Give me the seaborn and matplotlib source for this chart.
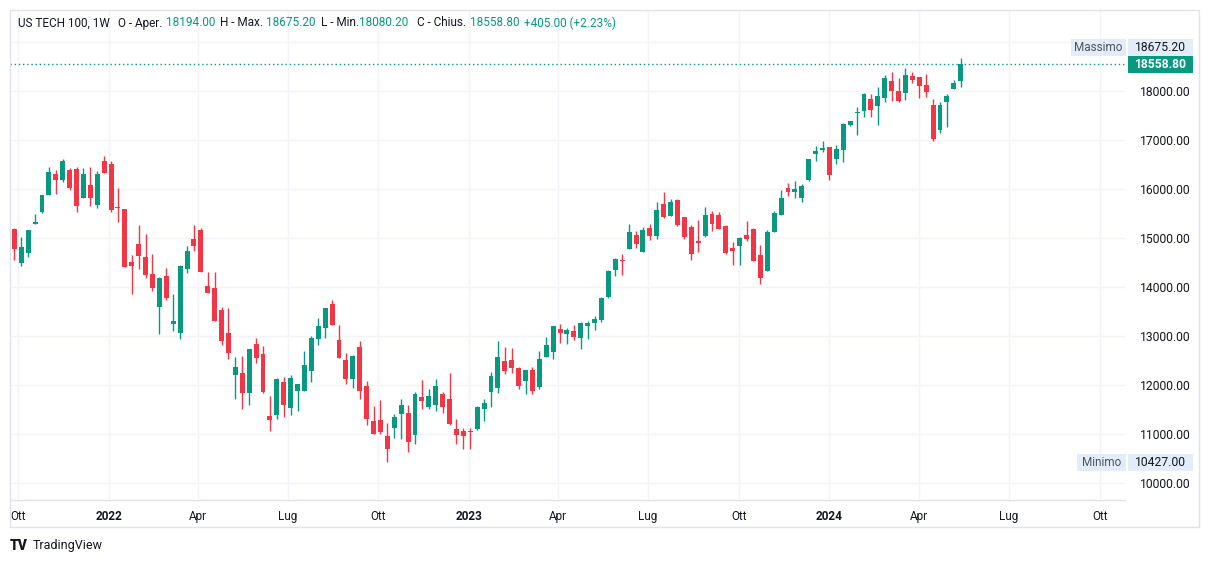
import numpy as np
import pandas as pd
import matplotlib
matplotlib.use("Agg")
import matplotlib.pyplot as plt
import matplotlib.dates as mdates
from matplotlib.patches import Rectangle
import seaborn as sns

# ---------------- data (weekly candles, US TECH 100) ----------------
start_week = "2021-09-27"
opens = [15184, 14497, 14701, 15292, 15537, 15884, 16306, 16190, 16388, 16408,
         15823, 16082, 15680, 16571, 16510, 15633, 15592, 14510, 14877, 14612,
         14265, 13598, 14224, 13251, 13068, 14374, 14979, 15163, 14020, 13979,
         13530, 13061, 12210, 12238, 11844, 12837, 12633, 11367, 11395, 12061,
         11537, 11884, 11884, 12293, 12946, 13170, 13653, 12918, 12510, 12129,
         12775, 11979, 11265, 11285, 10959, 11129, 11414, 11428, 10986, 11755,
         11557, 11598, 11816, 11714, 11101, 11061, 11061, 11102, 11510, 11857,
         11938, 12489, 12510, 12347, 12088, 12306, 11966, 12578, 12680, 13143,
         13047, 13102, 12966, 13211, 13265, 13330, 13800, 14354, 14551, 14783,
         15062, 14721, 15204, 15048, 15694, 15456, 15776, 15429, 15225, 14939,
         15047, 15490, 15469, 15245, 14796, 14843, 15061, 15184, 14653, 14333,
         15122, 15476, 16020, 15945, 15823, 16190, 16721, 16803, 16857, 16619,
         16803, 17313, 17558, 17599, 17837, 17701, 17864, 18204, 18000, 17966,
         18306, 18286, 18123, 17715, 17211, 17783, 18048, 18194.0]
highs = [15204, 15020, 15163, 15490, 15878, 16449, 16381, 16612, 16435, 16449,
         16429, 16449, 16367, 16673, 16571, 16014, 15600, 14653, 15265, 15081,
         14673, 14197, 14387, 13857, 14455, 14836, 15265, 15204, 14306, 14306,
         13591, 13571, 12571, 12591, 12735, 12959, 12796, 11782, 12143, 12163,
         12204, 12020, 12694, 13000, 13367, 13572, 13735, 13225, 12653, 12612,
         12897, 12081, 11571, 11693, 11224, 11408, 11714, 11591, 11857, 12102,
         11918, 12122, 11857, 12244, 11306, 11122, 11122, 11571, 11714, 12265,
         12898, 12775, 12755, 12367, 12306, 12367, 12694, 12979, 13204, 13245,
         13163, 13224, 13285, 13306, 13400, 13800, 14340, 14592, 14674, 15286,
         15143, 15225, 15286, 15735, 15939, 15796, 15796, 15429, 15266, 15368,
         15633, 15551, 15530, 15265, 14918, 15020, 15347, 15204, 14857, 15163,
         15551, 15979, 16122, 16163, 16102, 16612, 16877, 16980, 16857, 16898,
         17347, 17388, 17674, 17959, 17939, 18082, 18327, 18388, 18266, 18470,
         18388, 18286, 18347, 17837, 17776, 17939, 18225, 18675.2]
lows = [14558, 14435, 14612, 15292, 15517, 15871, 15905, 16143, 15986, 15537,
        15823, 15660, 15619, 16333, 15537, 15333, 14414, 13863, 14374, 14190,
        13925, 13047, 13741, 13108, 12945, 14292, 14741, 14312, 13884, 13312,
        12823, 12537, 11720, 11516, 11599, 12456, 11844, 11068, 11313, 11354,
        11395, 11476, 11884, 12068, 12823, 12966, 13231, 12558, 12027, 11946,
        11720, 11190, 11006, 11006, 10427, 10925, 10904, 10639, 10802, 11516,
        11516, 11476, 11435, 11190, 10802, 10700, 10700, 11081, 11265, 11551,
        11836, 12224, 12251, 11918, 11816, 11823, 11925, 12578, 12537, 12864,
        12843, 12925, 12741, 12945, 13120, 13280, 13770, 14232, 14252, 14783,
        14803, 14721, 14959, 14987, 15415, 15456, 15252, 14987, 14558, 14721,
        15027, 15150, 15190, 14680, 14456, 14456, 14945, 14537, 14068, 14333,
        15122, 15476, 15864, 15823, 15741, 16163, 16578, 16762, 16191, 16517,
        16558, 17292, 17109, 17476, 17476, 17313, 17783, 17803, 17783, 17823,
        18170, 17864, 17885, 16987, 17150, 17272, 18048, 18080.2]
closes = [14782, 14816, 15163, 15326, 15878, 16347, 16190, 16571, 16027, 15660,
          16306, 15823, 16306, 16333, 15578, 15612, 14414, 14435, 14639, 14251,
          13986, 14183, 13782, 13306, 14435, 14734, 14843, 14312, 13884, 13312,
          12904, 12659, 12367, 11843, 12735, 12558, 11864, 11293, 12122, 11599,
          12143, 12020, 12408, 12959, 13204, 13572, 13231, 12558, 12129, 12592,
          11884, 11312, 11006, 11047, 10700, 11346, 11591, 10843, 11816, 11680,
          11775, 11979, 11557, 11210, 10986, 10965, 11047, 11551, 11632, 12183,
          12571, 12292, 12353, 11986, 12306, 11884, 12530, 12816, 13204, 13068,
          13122, 12986, 13265, 13265, 13340, 13780, 14327, 14572, 14538, 15123,
          14885, 15164, 15048, 15572, 15436, 15735, 15272, 15027, 14681, 14905,
          15469, 15292, 15190, 14694, 14741, 15000, 14986, 14537, 14190, 15122,
          15510, 15816, 15945, 16000, 16061, 16612, 16775, 16837, 16293, 16817,
          17327, 17388, 17572, 17939, 17619, 17898, 18266, 18007, 17796, 18327,
          18232, 18109, 17987, 17027, 17715, 17898, 18153.8, 18558.8]

month_ticks = ["2021-10-01", "2022-01-01", "2022-04-01", "2022-07-01", "2022-10-01",
               "2023-01-01", "2023-04-01", "2023-07-01", "2023-10-01", "2024-01-01",
               "2024-04-01", "2024-07-01", "2024-10-01"]
month_labels = ["Ott", "2022", "Apr", "Lug", "Ott", "2023", "Apr", "Lug", "Ott",
                "2024", "Apr", "Lug", "Ott"]
price_ticks = [10000, 11000, 12000, 13000, 14000, 15000, 16000, 17000, 18000, 19000]
price_labels_shown = [10000, 11000, 12000, 13000, 14000, 15000, 16000, 17000, 18000]

symbol = "US TECH 100, 1W"
hi_label, lo_label = "Massimo", "Minimo"

# ---------------- style ----------------
GREEN = "#089981"
RED = "#f23645"
TXT = "#131722"
GRID = "#f2f4f9"
BORDER = "#e0e3eb"
LBLBG = "#e3ecf9"

sns.set_theme(style="white")
plt.rcParams['font.family'] = ['Roboto', 'DejaVu Sans']

W, H = 1209, 564
fig = plt.figure(figsize=(W / 100, H / 100), dpi=100)
fig.patch.set_facecolor("white")


def fx(x):
    return x / W


def fy(y):
    return 1 - y / H


ax = fig.add_axes([fx(10), fy(500), (1125 - 10) / W, (500 - 10) / H])
ax.set_facecolor("white")

df = pd.DataFrame({
    "date": pd.date_range(start_week, periods=len(opens), freq="7D"),
    "open": opens, "high": highs, "low": lows, "close": closes,
})
df["x"] = mdates.date2num(df["date"])
df["up"] = df["close"] >= df["open"]
cols = np.where(df["up"], GREEN, RED)

# wicks
ax.vlines(df["x"], df["low"], df["high"], colors=cols, lw=1.0, zorder=3)
# bodies
body_bottom = np.minimum(df["open"], df["close"])
body_h = np.maximum(np.abs(df["close"] - df["open"]), 22)
ax.bar(df["x"], body_h, bottom=body_bottom, width=5.0, color=cols,
       linewidth=0, zorder=4)

# limits
x0 = df["x"].iloc[0] - 4.4
x1 = df["x"].iloc[-1] + 166.5
ax.set_xlim(x0, x1)
ax.set_ylim(9653, 19653)

# grid + ticks
tick_x = mdates.date2num(pd.to_datetime(month_ticks))
ax.set_xticks(tick_x)
ax.set_xticklabels(month_labels)
for lab in ax.get_xticklabels():
    lab.set_fontsize(8.5)
    lab.set_color(TXT)
    if lab.get_text().startswith("20"):
        lab.set_fontweight("bold")
ax.set_yticks(price_ticks)
ax.set_yticklabels([f"{v:.2f}" if v in price_labels_shown else "" for v in price_ticks])
ax.yaxis.tick_right()
ax.tick_params(axis="x", length=0, pad=7)
ax.tick_params(axis="y", length=0, pad=11, labelsize=8.7, labelcolor=TXT)
ax.grid(True, color=GRID, lw=1)
ax.set_axisbelow(True)
for s in ["top", "left", "right"]:
    ax.spines[s].set_visible(False)
ax.spines["bottom"].set_color(BORDER)
ax.spines["bottom"].set_linewidth(1)

# last price dotted line
last = df["close"].iloc[-1]
ax.axhline(last, color=GREEN, lw=1, ls=(0, (1, 2)), zorder=2)

# outer frame
fig.add_artist(Rectangle((fx(10), fy(527)), (1199 - 10) / W, (527 - 10) / H,
                         transform=fig.transFigure, fill=False,
                         edgecolor=BORDER, lw=1, zorder=10))

fig.canvas.draw()


def ypix(v):
    return H - ax.transData.transform((x0, v))[1]


# right-side labels
def value_box(yc, text, bg, fg, bold=False):
    fig.add_artist(Rectangle((fx(1128), fy(yc + 8.5)), 65 / W, 17 / H,
                             transform=fig.transFigure, facecolor=bg,
                             edgecolor="none", zorder=11))
    fig.text(fx(1160.5), fy(yc), text, ha="center", va="center",
             fontsize=8.7, color=fg, fontweight="bold" if bold else "normal",
             zorder=12)


def name_box(yc, text, x_left):
    fig.add_artist(Rectangle((fx(x_left), fy(yc + 8.5)), (1126 - x_left) / W, 17 / H,
                             transform=fig.transFigure, facecolor=LBLBG,
                             edgecolor="none", zorder=11))
    fig.text(fx((x_left + 1126) / 2), fy(yc), text, ha="center", va="center",
             fontsize=8.5, color="#50535e", zorder=12)


y_last = ypix(last)
hmax = max(highs)
lmin = min(lows)
value_box(y_last + 0.8, f"{last:.2f}", GREEN, "white", bold=True)
value_box(y_last - 16.2, f"{hmax:.2f}", LBLBG, TXT)
name_box(y_last - 16.2, hi_label, 1071)
y_min = ypix(lmin)
value_box(y_min, f"{lmin:.2f}", LBLBG, TXT)
name_box(y_min, lo_label, 1077)

# header legend
o, h, l, c = opens[-1], highs[-1], lows[-1], closes[-1]
prev = closes[-2]
chg = c - prev
pct = chg / prev * 100
hy = fy(23)
hdr = [
    (18, symbol, TXT),
    (118, "O - Aper.", TXT), (166, f"{o:.2f}", GREEN),
    (220, "H - Max.", TXT), (266, f"{h:.2f}", GREEN),
    (321, "L - Min.", TXT), (359, f"{l:.2f}", GREEN),
    (417, "C - Chius.", TXT), (470, f"{c:.2f}", GREEN),
    (524, f"{chg:+.2f} ({pct:+.2f}%)", GREEN),
]
for xp, t, col in hdr:
    fig.text(fx(xp), hy, t, ha="left", va="center", fontsize=8.5, color=col,
             zorder=12)

# footer logo
fig.text(fx(10), fy(546), "TV", ha="left", va="center", fontsize=10,
         fontweight="heavy", color=TXT)
fig.text(fx(33), fy(546), "TradingView", ha="left", va="center", fontsize=9,
         color=TXT)

fig.savefig("out.png", dpi=100, facecolor="white")
